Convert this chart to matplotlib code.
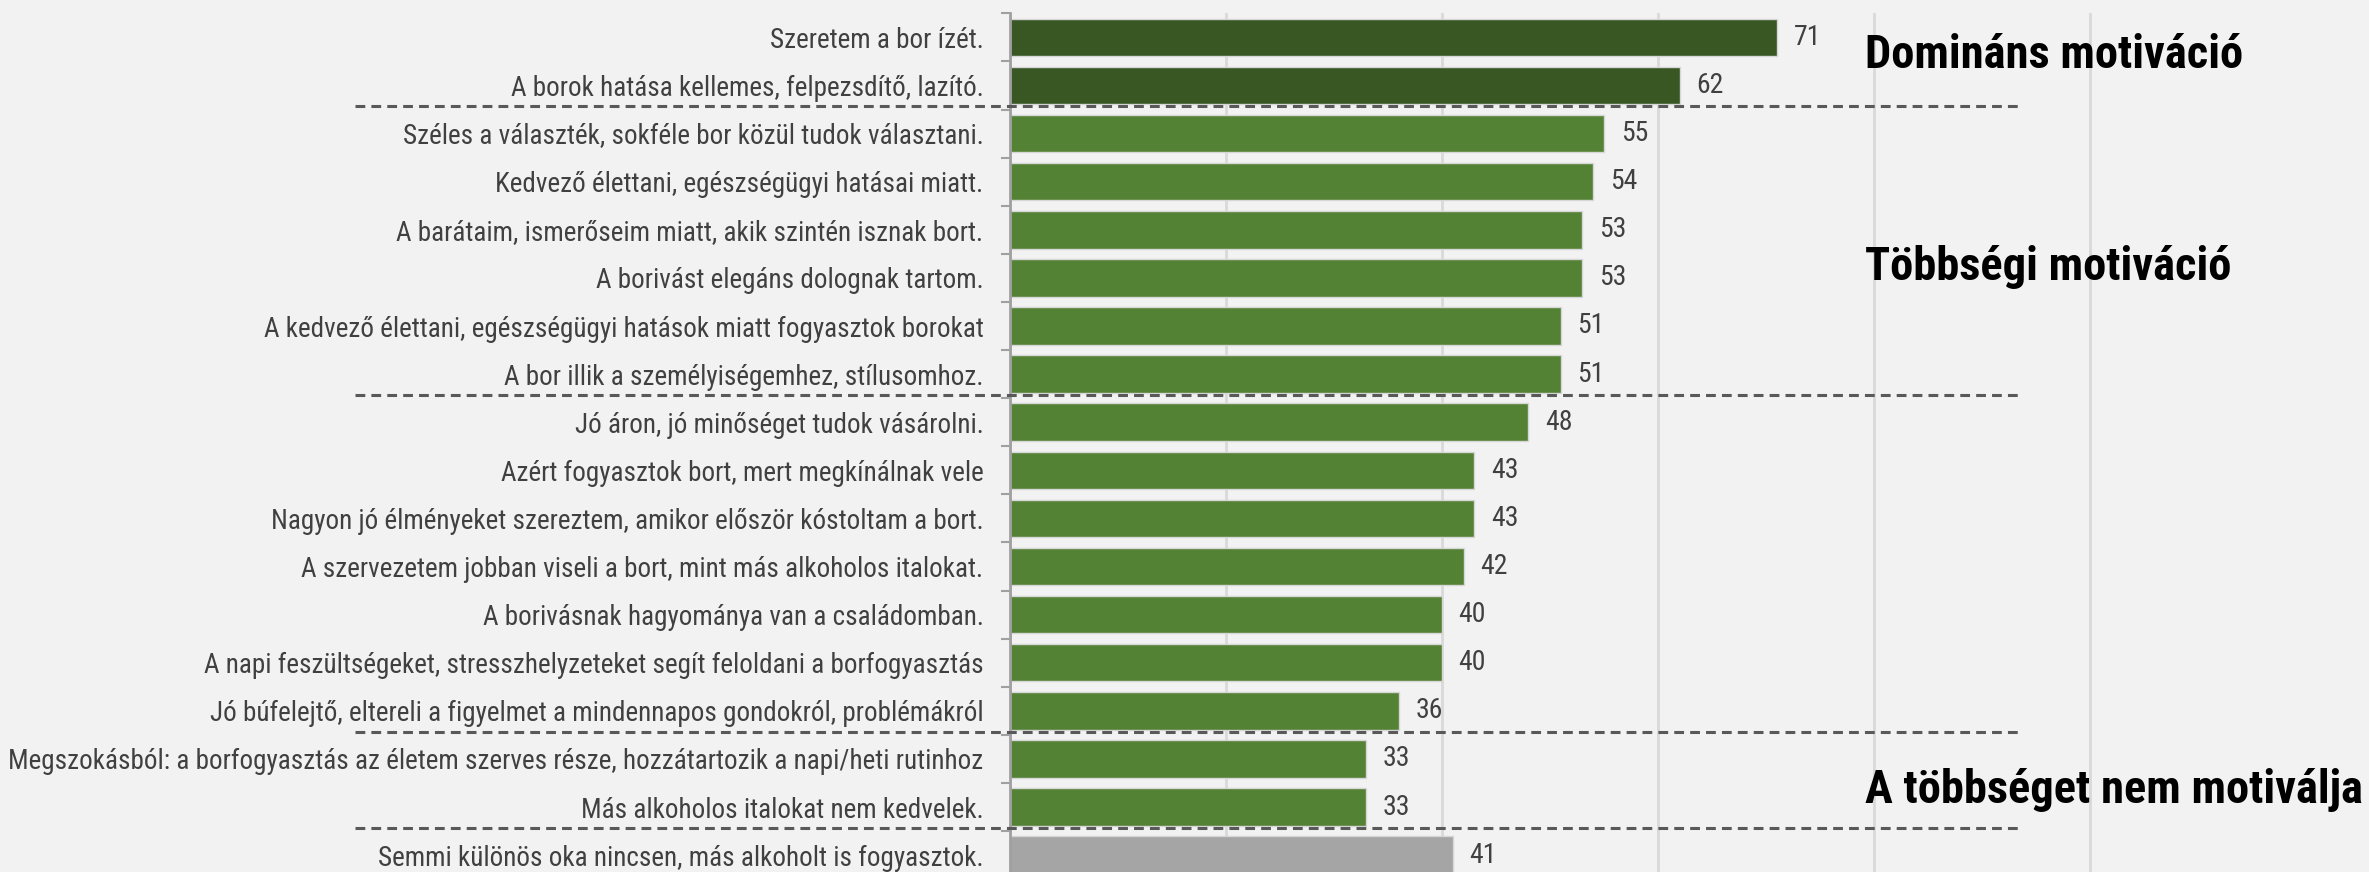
import numpy as np
import matplotlib.pyplot as plt
from matplotlib.ticker import FixedLocator

labels = [
    "Szeretem a bor ízét.",
    "A borok hatása kellemes, felpezsdítő, lazító.",
    "Széles a választék, sokféle bor közül tudok választani.",
    "Kedvező élettani, egészségügyi hatásai miatt.",
    "A barátaim, ismerőseim miatt, akik szintén isznak bort.",
    "A borivást elegáns dolognak tartom.",
    "A kedvező élettani, egészségügyi hatások miatt fogyasztok borokat",
    "A bor illik a személyiségemhez, stílusomhoz.",
    "Jó áron, jó minőséget tudok vásárolni.",
    "Azért fogyasztok bort, mert megkínálnak vele",
    "Nagyon jó élményeket szereztem, amikor először kóstoltam a bort.",
    "A szervezetem jobban viseli a bort, mint más alkoholos italokat.",
    "A borivásnak hagyománya van a családomban.",
    "A napi feszültségeket, stresszhelyzeteket segít feloldani a borfogyasztás",
    "Jó búfelejtő, eltereli a figyelmet a mindennapos gondokról, problémákról",
    "Megszokásból: a borfogyasztás az életem szerves része, hozzátartozik a napi/heti rutinhoz",
    "Más alkoholos italokat nem kedvelek.",
    "Semmi különös oka nincsen, más alkoholt is fogyasztok.",
]
values = [71, 62, 55, 54, 53, 53, 51, 51, 48, 43, 43, 42, 40, 40, 36, 33, 33, 41]

# groups (size, bar colour, label, label baseline in category units)
group_sizes = [2, 6, 7, 2, 1]
group_colors = ["#385723", "#548235", "#548235", "#548235", "#a5a5a5"]
group_names = ["Domináns motiváció", "Többségi motiváció", "", "A többséget nem motiválja", ""]
group_name_y = [0.64, 5.04, None, 15.92, None]

plt.rcParams["font.family"] = ["Roboto Condensed", "Archivo Narrow", "Liberation Sans", "DejaVu Sans"]

colors = []
for size, c in zip(group_sizes, group_colors):
    colors += [c] * size

W, H = 2369, 872
fig = plt.figure(figsize=(W / 100, H / 100), dpi=100)
fig.patch.set_facecolor("#f2f2f2")

x0 = 1010
top = 13.3
ax = fig.add_axes([x0 / W, 0, 1 - x0 / W, (H - top) / H])
ax.set_facecolor("#f2f2f2")

y = np.arange(len(values))
ax.barh(y, values, height=0.78, color=colors, edgecolor="#d6d6d6", linewidth=1, zorder=3)

xmax = (W - x0) / 10.8
ax.set_xlim(0, xmax)
ax.set_ylim(17.35, -0.5)

ax.set_xticks([0, 20, 40, 60, 80, 100])
ax.xaxis.grid(True, color="#d9d9d9", linewidth=2, zorder=0)
ax.tick_params(axis="x", bottom=False, labelbottom=False)

ax.set_yticks(y)
ax.set_yticklabels(labels, fontsize=19.5, color="#404040")
ax.tick_params(axis="y", which="major", length=0, pad=19)
ax.yaxis.set_minor_locator(FixedLocator(np.arange(-0.5, len(values), 1)))
ax.tick_params(axis="y", which="minor", length=6.5, width=1.5, color="#a0a0a0")

for s in ["top", "right", "bottom"]:
    ax.spines[s].set_visible(False)
ax.spines["left"].set_color("#a0a0a0")
ax.spines["left"].set_linewidth(2)
ax.spines["left"].set_zorder(4)

for yi, v in zip(y, values):
    ax.annotate(str(v), (v, yi), xytext=(12, 0), textcoords="offset points",
                ha="left", va="center", fontsize=20, color="#404040")

# dashed separators between groups
xl = (355 - x0) / 10.8
xr = (2022 - x0) / 10.8
bounds = np.cumsum(group_sizes)[:-1] - 0.5
for b in bounds:
    ax.plot([xl, xr], [b - 0.07, b - 0.07], linestyle=(0, (3.2, 2)), color="#595959",
            linewidth=2.2, clip_on=False, zorder=5)

gx = (1865 - x0) / 10.8
for name, gy in zip(group_names, group_name_y):
    if name:
        ax.text(gx, gy, name, fontsize=33.5, fontweight="bold", color="black",
                ha="left", va="baseline", clip_on=False)

fig.savefig("out.png", dpi=100, facecolor=fig.get_facecolor())
